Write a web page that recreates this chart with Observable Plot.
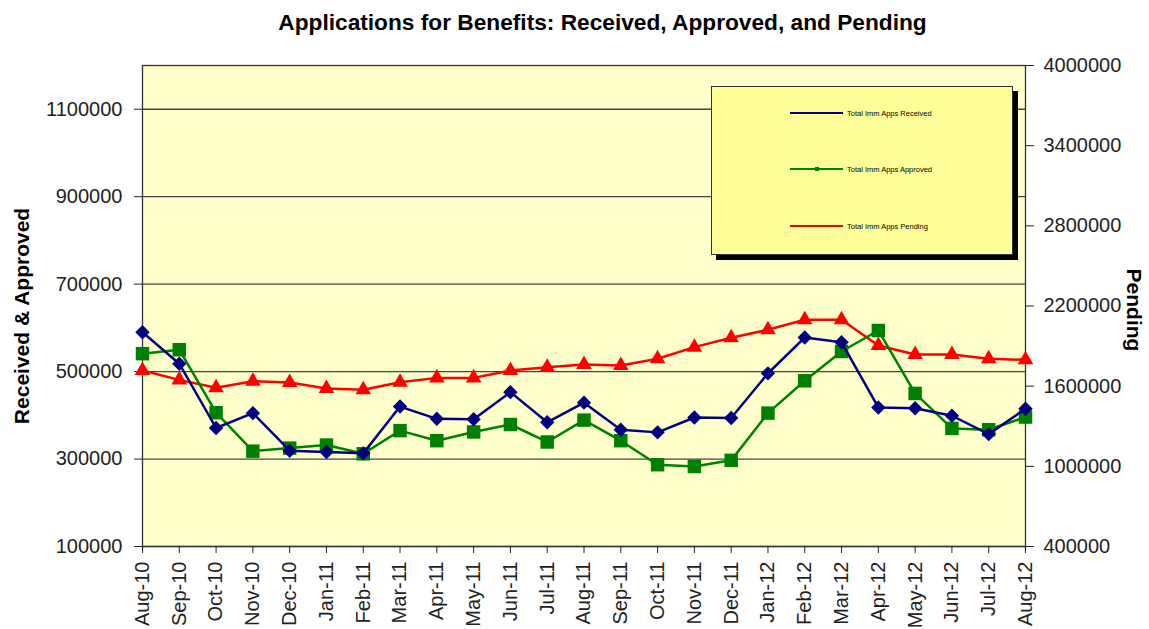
<!DOCTYPE html>
<html>
<head>
<meta charset="utf-8">
<script src="https://cdn.jsdelivr.net/npm/d3@7"></script>
<script src="https://cdn.jsdelivr.net/npm/@observablehq/plot@0.6"></script>
<style>
  body { margin: 0; background: white; font-family: "Liberation Sans", Arial, sans-serif; }
  #wrap { position: relative; width: 1149px; height: 629px; overflow: hidden; }
  #title { height: 50px; line-height: 44px; padding-left: 56px; text-align: center; font-weight: bold; font-size: 22.7px; color: #000; white-space: nowrap; }
  #legend { position: absolute; left: 711px; top: 86px; width: 300px; height: 167px; background: #FFFF99; border: 1px solid #333; box-shadow: 5px 5px 0 #000; }
  #legend svg { position: absolute; left: 0; top: 0; }
</style>
</head>
<body>
<div id="wrap">
  <div id="title">Applications for Benefits: Received, Approved, and Pending</div>
  <div id="chart"></div>
  <div id="legend"></div>
</div>
<script>
const months = ["Aug-10","Sep-10","Oct-10","Nov-10","Dec-10","Jan-11","Feb-11","Mar-11","Apr-11","May-11","Jun-11","Jul-11","Aug-11","Sep-11","Oct-11","Nov-11","Dec-11","Jan-12","Feb-12","Mar-12","Apr-12","May-12","Jun-12","Jul-12","Aug-12"];
const received = [590000,518000,371000,405000,319000,316000,313000,420000,392000,391000,453000,384000,429000,367000,361000,395000,394000,496000,578000,567000,418000,416000,399000,357000,415000];
const approved = [541000,550000,406000,318000,325000,332000,312000,365000,342000,362000,379000,339000,389000,342000,287000,283000,297000,405000,479000,546000,594000,450000,370000,367000,396000];
const pending = [1717000,1647000,1588000,1637000,1627000,1582000,1573000,1630000,1662000,1662000,1717000,1742000,1762000,1755000,1805000,1892000,1962000,2022000,2097000,2097000,1904000,1837000,1837000,1805000,1797000];
const leftTicks = [100000,300000,500000,700000,900000,1100000];
const rightTicks = [400000,1000000,1600000,2200000,2800000,3400000,4000000];
const leftDomain = [100000,1200000];
const rightDomain = [400000,4000000];
const seriesNames = ["Total Imm Apps Received","Total Imm Apps Approved","Total Imm Apps Pending"];
const seriesColors = ["#000080","#008000","#FF0000"];

const k = (leftDomain[1]-leftDomain[0])/(rightDomain[1]-rightDomain[0]);
const toLeft = v => leftDomain[0] + (v - rightDomain[0]) * k;
const fromLeft = v => rightDomain[0] + (v - leftDomain[0]) / k;

const rec = months.map((m,i) => ({month:m, value:received[i]}));
const app = months.map((m,i) => ({month:m, value:approved[i]}));
const pen = months.map((m,i) => ({month:m, value:toLeft(pending[i])}));

const chart = Plot.plot({
  width: 1149, height: 579,
  marginLeft: 142, marginRight: 124, marginTop: 15, marginBottom: 83,
  style: {fontFamily: "'Liberation Sans', Arial, sans-serif", fontSize: "20px", color: "#222", background: "white", overflow: "visible"},
  x: {type: "point", domain: months, padding: 0, round: false, label: null},
  y: {domain: leftDomain, label: null},
  marks: [
    Plot.frame({fill: "#FFFFCC"}),
    Plot.gridY(leftTicks, {stroke: "#444", strokeOpacity: 1, strokeWidth: 1.3}),
    Plot.frame({stroke: "#333", strokeWidth: 1.3}),
    Plot.axisY({ticks: leftTicks, anchor: "left", tickSize: 8, tickPadding: 12, tickFormat: d => String(d), label: null}),
    Plot.axisY({ticks: rightTicks.map(toLeft), anchor: "right", tickSize: 8, tickPadding: 10, tickFormat: d => String(Math.round(fromLeft(d))), label: null}),
    Plot.axisX({tickRotate: -90, tickSize: 7, tickPadding: 8, label: null}),
    Plot.text(["Received & Approved"], {frameAnchor: "left", textAnchor: "middle", dx: -120, dy: 10, rotate: -90, fontWeight: "bold", fontSize: 21, fill: "#000"}),
    Plot.text(["Pending"], {frameAnchor: "right", textAnchor: "middle", dx: 108, dy: 4, rotate: 90, fontWeight: "bold", fontSize: 21, fill: "#000"}),
    Plot.line(pen, {x: "month", y: "value", stroke: seriesColors[2], strokeWidth: 2.5}),
    Plot.dot(pen, {x: "month", y: "value", symbol: "triangle", r: 5.8, fill: seriesColors[2], stroke: null}),
    Plot.line(app, {x: "month", y: "value", stroke: seriesColors[1], strokeWidth: 2.5}),
    Plot.dot(app, {x: "month", y: "value", symbol: "square", r: 7.6, fill: seriesColors[1], stroke: null}),
    Plot.line(rec, {x: "month", y: "value", stroke: seriesColors[0], strokeWidth: 2.5}),
    Plot.dot(rec, {x: "month", y: "value", symbol: "diamond2", r: 6.5, fill: seriesColors[0], stroke: null})
  ]
});
document.getElementById("chart").appendChild(chart);

// legend
const lg = d3.select("#legend").append("svg").attr("width", 300).attr("height", 167);
const ys = [26, 82, 139];
seriesNames.forEach((name, i) => {
  const g = lg.append("g").attr("transform", `translate(0,${ys[i]})`);
  g.append("line").attr("x1", 78).attr("x2", 131).attr("stroke", seriesColors[i]).attr("stroke-width", 2.2);
  if (i === 1) g.append("rect").attr("x", 103).attr("y", -2).attr("width", 4).attr("height", 4).attr("fill", seriesColors[i]);
  g.append("text").attr("x", 135).attr("dy", "0.35em").attr("font-size", 7.5).attr("font-family", "'Liberation Sans', Arial, sans-serif").attr("fill", "#000").text(name);
});
</script>
</body>
</html>
